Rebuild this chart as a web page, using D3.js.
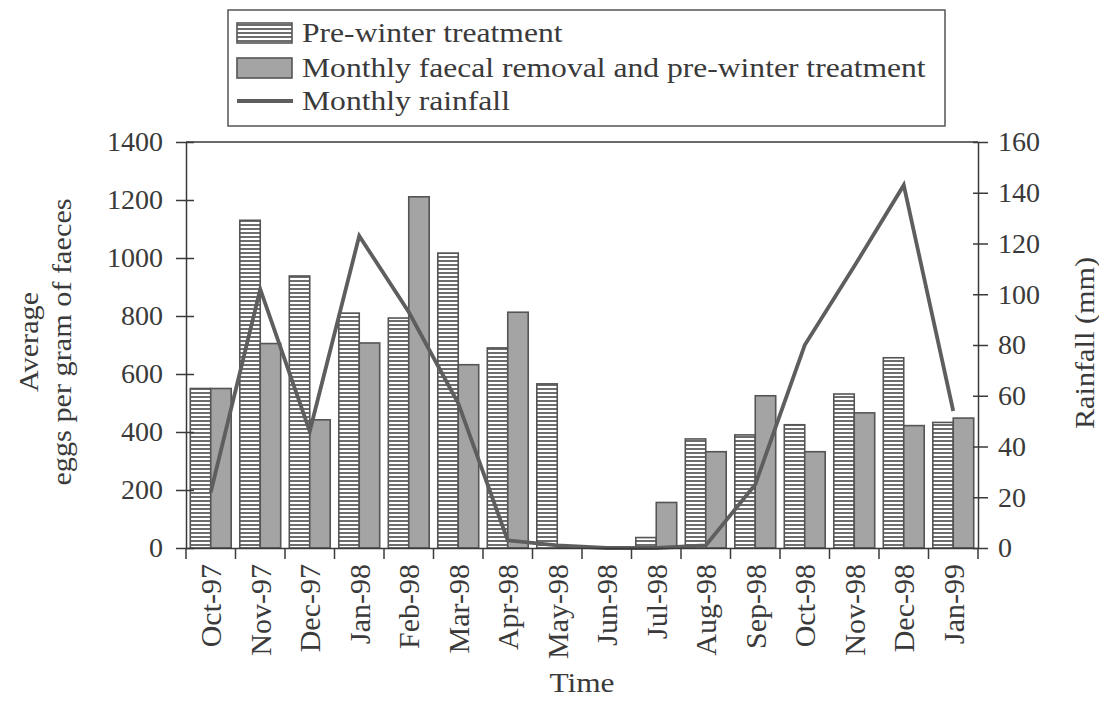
<!DOCTYPE html>
<html>
<head>
<meta charset="utf-8">
<script src="https://cdn.jsdelivr.net/npm/d3@7"></script>
<style>
  html, body { margin: 0; padding: 0; background: #fff; }
  svg { display: block; }
  svg text { font-family: "Liberation Serif", "Times New Roman", serif; }
</style>
</head>
<body>
<svg id="chart" width="1099" height="713"></svg>
<script>
const months = ["Oct-97","Nov-97","Dec-97","Jan-98","Feb-98","Mar-98","Apr-98","May-98","Jun-98","Jul-98","Aug-98","Sep-98","Oct-98","Nov-98","Dec-98","Jan-99"];
const preWinter = [550, 1130, 938, 810, 793, 1017, 690, 566, 0, 36, 376, 390, 425, 531, 656, 433];
const faecalRemoval = [550, 705, 442, 707, 1211, 632, 813, 5, 0, 157, 332, 525, 332, 466, 422, 448];
const rainfall = [22, 102, 46, 123, 93, 57, 3, 1, 0, 0, 1, 25, 80, 111, 143, 54];
const leftTicks = [0, 200, 400, 600, 800, 1000, 1200, 1400];
const rightTicks = [0, 20, 40, 60, 80, 100, 120, 140, 160];
const seriesKeys = ["pre", "monthly"];
const legendLabels = ["Pre-winter treatment", "Monthly faecal removal and pre-winter treatment", "Monthly rainfall"];

const svg = d3.select("#chart");
const ink = "#3a3a3a";
const plot = {left: 186, right: 978, top: 142, bottom: 548};
function stretch(sel, k) {
  sel.each(function() {
    const len = this.getComputedTextLength();
    d3.select(this).attr("textLength", len * k).attr("lengthAdjust", "spacingAndGlyphs");
  });
}

const defs = svg.append("defs");
const pat = defs.append("pattern").attr("id", "stripes").attr("patternUnits", "userSpaceOnUse")
  .attr("width", 8).attr("height", 4);
pat.append("rect").attr("width", 8).attr("height", 4).attr("fill", "#ffffff");
pat.append("rect").attr("y", 0).attr("width", 8).attr("height", 2).attr("fill", "#6e6e6e");

const x = d3.scaleBand().domain(months).range([plot.left, plot.right]).paddingInner(0).paddingOuter(0);
const xs = d3.scaleBand().domain(seriesKeys).range([0, x.bandwidth()]).paddingInner(0).paddingOuter(0.21);
const yL = d3.scaleLinear().domain([0, 1400]).range([plot.bottom, plot.top]);
const yR = d3.scaleLinear().domain([0, 160]).range([plot.bottom, plot.top]);

// bars
const g = svg.append("g");
months.forEach((m, i) => {
  g.append("rect")
    .attr("x", x(m) + xs("pre")).attr("y", yL(preWinter[i]))
    .attr("width", xs.bandwidth()).attr("height", yL(0) - yL(preWinter[i]))
    .attr("fill", "url(#stripes)").attr("stroke", "#555").attr("stroke-width", 1.6);
  g.append("rect")
    .attr("x", x(m) + xs("monthly")).attr("y", yL(faecalRemoval[i]))
    .attr("width", xs.bandwidth()).attr("height", yL(0) - yL(faecalRemoval[i]))
    .attr("fill", "#a4a4a4").attr("stroke", "#555").attr("stroke-width", 1.6);
});

// frame top line
svg.append("line").attr("x1", plot.left).attr("x2", plot.right).attr("y1", plot.top).attr("y2", plot.top)
  .attr("stroke", ink).attr("stroke-width", 1.5);

// rainfall line
const line = d3.line().x((d, i) => x(months[i]) + x.bandwidth() / 2).y(d => yR(d));
svg.append("path").datum(rainfall).attr("d", line).attr("fill", "none")
  .attr("stroke", "#5e5e5e").attr("stroke-width", 3.8).attr("stroke-linejoin", "miter");

// axes
function styleAxis(sel, size) {
  sel.selectAll("path").attr("stroke", ink).attr("stroke-width", 1.5);
  sel.selectAll("line").attr("stroke", ink).attr("stroke-width", 1.5);
  sel.selectAll("text").attr("fill", ink).attr("font-family", "Liberation Serif").style("font-size", size + "px");
}
const axL = svg.append("g").attr("transform", `translate(${plot.left},0)`)
  .call(d3.axisLeft(yL).tickValues(leftTicks).tickFormat(d3.format("d")).tickSizeOuter(0).tickSizeInner(8).tickPadding(15));
styleAxis(axL, 28);
axL.selectAll(".tick line").attr("x2", -10).attr("x1", 8);

const axR = svg.append("g").attr("transform", `translate(${plot.right},0)`)
  .call(d3.axisRight(yR).tickValues(rightTicks).tickFormat(d3.format("d")).tickSizeOuter(0).tickSizeInner(10).tickPadding(10));
styleAxis(axR, 28);
axR.selectAll(".tick line").attr("x1", -5).attr("x2", 10);

const axB = svg.append("g").attr("transform", `translate(0,${plot.bottom})`)
  .call(d3.axisBottom(x).tickSizeOuter(0).tickSize(0).tickFormat(d => d));
styleAxis(axB, 30);
axB.selectAll(".tick line").remove();
axB.selectAll(".tick text")
  .attr("transform", "rotate(-90)")
  .attr("text-anchor", "end")
  .attr("x", -16).attr("y", 0).attr("dy", "0.35em");
// boundary ticks
const bounds = months.map(m => x(m)).concat([plot.right]);
axB.selectAll(".bt").data(bounds).join("line").attr("class", "bt")
  .attr("x1", d => d).attr("x2", d => d).attr("y1", 0).attr("y2", 11)
  .attr("stroke", ink).attr("stroke-width", 1.5);

// axis titles
const tA = svg.append("text").attr("transform", "translate(38,342) rotate(-90)")
  .attr("text-anchor", "middle").attr("fill", ink).style("font-size", "27px").text("Average");
const tB = svg.append("text").attr("transform", "translate(71,342) rotate(-90)")
  .attr("text-anchor", "middle").attr("fill", ink).style("font-size", "27px").text("eggs per gram of faeces");
const tR = svg.append("text").attr("transform", "translate(1094,343) rotate(-90)")
  .attr("text-anchor", "middle").attr("fill", ink).style("font-size", "27px").text("Rainfall (mm)");
const tT = svg.append("text").attr("x", (plot.left + plot.right) / 2).attr("y", 692)
  .attr("text-anchor", "middle").attr("fill", ink).style("font-size", "28px").text("Time");
[tA, tB, tR, tT].forEach(t => stretch(t, 1.12));

// legend
const lg = svg.append("g");
lg.append("rect").attr("x", 228).attr("y", 10).attr("width", 717).attr("height", 116)
  .attr("fill", "#fff").attr("stroke", "#555").attr("stroke-width", 1.5);
const rows = [33, 68, 101];
lg.append("rect").attr("x", 237).attr("y", rows[0] - 10).attr("width", 55).attr("height", 20)
  .attr("fill", "url(#stripes)").attr("stroke", "#555").attr("stroke-width", 1.6);
lg.append("rect").attr("x", 237).attr("y", rows[1] - 10).attr("width", 55).attr("height", 20)
  .attr("fill", "#a4a4a4").attr("stroke", "#555").attr("stroke-width", 1.6);
lg.append("line").attr("x1", 237).attr("x2", 293).attr("y1", rows[2]).attr("y2", rows[2])
  .attr("stroke", "#5e5e5e").attr("stroke-width", 3.8);
legendLabels.forEach((t, i) => {
  const tx = lg.append("text").attr("x", 302).attr("y", rows[i]).attr("dy", "0.35em")
    .attr("fill", ink).style("font-size", "27px").text(t);
  stretch(tx, 1.17);
});
</script>
</body>
</html>
